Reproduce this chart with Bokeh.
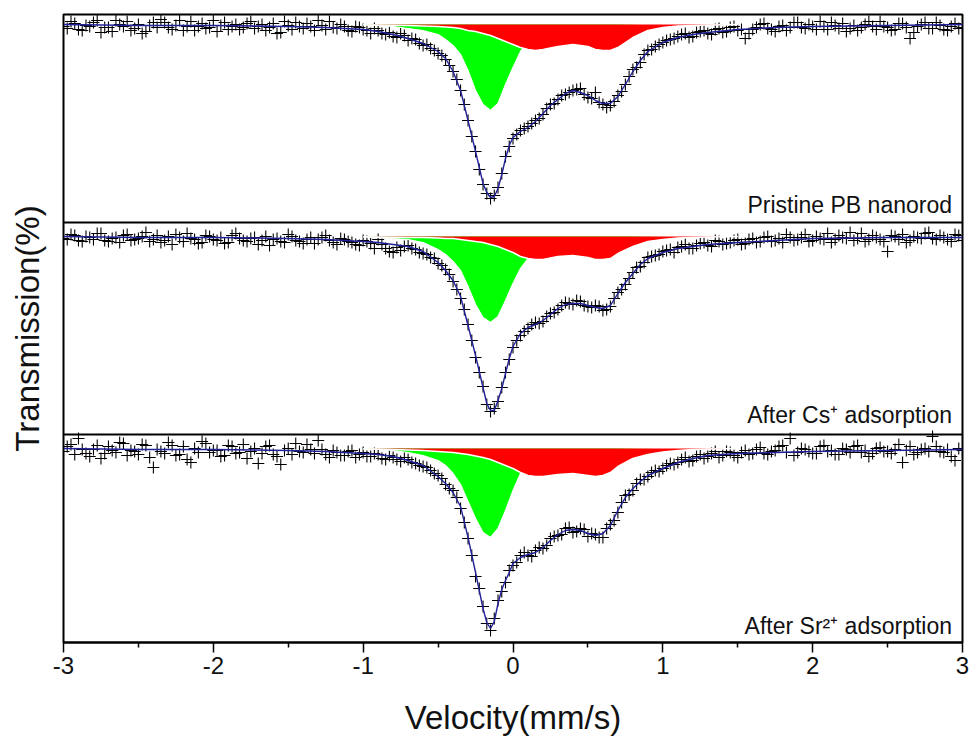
from bokeh.plotting import figure
from bokeh.models import Range1d, FixedTicker, Label, Span
from bokeh.embed import file_html
from bokeh.resources import INLINE

# ---------------- data ----------------
velocity = [-3.00, -2.95, -2.90, -2.85, -2.80, -2.75, -2.70, -2.65, -2.60, -2.55,
            -2.50, -2.45, -2.40, -2.35, -2.30, -2.25, -2.20, -2.15, -2.10, -2.05,
            -2.00, -1.95, -1.90, -1.85, -1.80, -1.75, -1.70, -1.65, -1.60, -1.55,
            -1.50, -1.45, -1.40, -1.35, -1.30, -1.25, -1.20, -1.15, -1.10, -1.05,
            -1.00, -0.95, -0.90, -0.85, -0.80, -0.75, -0.70, -0.65, -0.60, -0.55,
            -0.50, -0.45, -0.40, -0.35, -0.30, -0.25, -0.20, -0.15, -0.10, -0.05,
            0.00, 0.05, 0.10, 0.15, 0.20, 0.25, 0.30, 0.35, 0.40, 0.45,
            0.50, 0.55, 0.60, 0.65, 0.70, 0.75, 0.80, 0.85, 0.90, 0.95,
            1.00, 1.05, 1.10, 1.15, 1.20, 1.25, 1.30, 1.35, 1.40, 1.45,
            1.50, 1.55, 1.60, 1.65, 1.70, 1.75, 1.80, 1.85, 1.90, 1.95,
            2.00, 2.05, 2.10, 2.15, 2.20, 2.25, 2.30, 2.35, 2.40, 2.45,
            2.50, 2.55, 2.60, 2.65, 2.70, 2.75, 2.80, 2.85, 2.90, 2.95,
            3.00]

velocity_mid = [-2.975, -2.925, -2.875, -2.825, -2.775, -2.725, -2.675, -2.625, -2.575, -2.525,
                -2.475, -2.425, -2.375, -2.325, -2.275, -2.225, -2.175, -2.125, -2.075, -2.025,
                -1.975, -1.925, -1.875, -1.825, -1.775, -1.725, -1.675, -1.625, -1.575, -1.525,
                -1.475, -1.425, -1.375, -1.325, -1.275, -1.225, -1.175, -1.125, -1.075, -1.025,
                -0.975, -0.925, -0.875, -0.825, -0.775, -0.725, -0.675, -0.625, -0.575, -0.525,
                -0.475, -0.425, -0.375, -0.325, -0.275, -0.225, -0.175, -0.125, -0.075, -0.025,
                0.025, 0.075, 0.125, 0.175, 0.225, 0.275, 0.325, 0.375, 0.425, 0.475,
                0.525, 0.575, 0.625, 0.675, 0.725, 0.775, 0.825, 0.875, 0.925, 0.975,
                1.025, 1.075, 1.125, 1.175, 1.225, 1.275, 1.325, 1.375, 1.425, 1.475,
                1.525, 1.575, 1.625, 1.675, 1.725, 1.775, 1.825, 1.875, 1.925, 1.975,
                2.025, 2.075, 2.125, 2.175, 2.225, 2.275, 2.325, 2.375, 2.425, 2.475,
                2.525, 2.575, 2.625, 2.675, 2.725, 2.775, 2.825, 2.875, 2.925, 2.975]

pristine_data = [99.98, 100.03, 99.95, 99.99, 100.02, 99.92, 99.97, 100.04, 99.98, 99.94,
                 100.00, 99.93, 100.02, 100.05, 99.97, 99.99, 99.94, 100.03, 99.98, 99.96,
                 100.04, 99.99, 99.95, 100.00, 99.97, 100.03, 99.98, 99.94, 100.01, 99.92,
                 99.99, 100.02, 99.96, 99.98, 100.04, 99.95, 99.97, 100.00, 99.94, 99.98,
                 99.95, 99.91, 99.94, 99.90, 99.88, 99.91, 99.84, 99.85, 99.79, 99.76,
                 99.71, 99.65, 99.53, 99.34, 99.04, 98.73, 98.40, 98.26, 98.37, 98.68,
                 98.86, 98.94, 98.98, 99.04, 99.10, 99.20, 99.25, 99.30, 99.34, 99.36,
                 99.27, 99.32, 99.20, 99.19, 99.29, 99.40, 99.55, 99.62, 99.74, 99.78,
                 99.82, 99.85, 99.88, 99.91, 99.88, 99.93, 99.91, 99.95, 99.92, 99.97,
                 99.94, 99.86, 99.95, 100.00, 99.96, 99.93, 99.99, 99.97, 100.02, 99.96,
                 99.98, 100.03, 99.95, 99.99, 100.01, 99.96, 99.94, 100.00, 99.98, 100.03,
                 99.97, 99.95, 100.01, 99.86, 99.98, 100.02, 99.96, 99.99, 99.94, 100.01,
                 99.97]
pristine_data_mid = [99.96, 100.01, 99.94, 99.98, 100.04, 99.97, 99.93, 100.00, 100.03, 99.96,
                     99.91, 99.99, 99.97, 100.02, 99.95, 100.04, 99.98, 99.94, 100.01, 99.97,
                     99.93, 100.02, 99.98, 99.95, 100.01, 99.96, 100.00, 99.97, 99.91, 100.03,
                     99.95, 99.98, 100.01, 99.94, 99.99, 100.03, 99.96, 99.98, 99.93, 99.97,
                     99.94, 99.96, 99.91, 99.92, 99.87, 99.89, 99.86, 99.81, 99.80, 99.74,
                     99.69, 99.59, 99.45, 99.20, 98.88, 98.55, 98.31, 98.29, 98.51, 98.78,
                     98.90, 98.96, 99.01, 99.06, 99.16, 99.21, 99.29, 99.32, 99.35, 99.30,
                     99.26, 99.22, 99.17, 99.23, 99.33, 99.48, 99.57, 99.70, 99.75, 99.80,
                     99.84, 99.86, 99.90, 99.87, 99.92, 99.94, 99.90, 99.96, 99.93, 99.98,
                     99.95, 99.91, 99.97, 100.01, 99.95, 99.98, 99.94, 100.02, 99.97, 100.00,
                     99.95, 99.98, 100.02, 99.96, 99.93, 99.99, 99.97, 100.03, 99.95, 99.98,
                     99.94, 100.01, 99.97, 99.92, 100.00, 99.96, 100.02, 99.95, 99.98, 99.96]

cs_data = [99.98, 100.02, 99.96, 100.00, 99.97, 100.03, 99.95, 99.99, 100.01, 99.96,
           99.98, 100.04, 99.97, 99.94, 100.00, 100.02, 99.95, 99.98, 99.93, 100.01,
           99.97, 99.99, 99.94, 100.03, 99.96, 99.98, 99.92, 100.00, 99.97, 99.95,
           100.02, 99.96, 99.93, 99.99, 99.97, 100.01, 99.94, 99.98, 99.95, 99.92,
           99.96, 99.93, 99.97, 99.88, 99.84, 99.86, 99.91, 99.87, 99.83, 99.79,
           99.73, 99.67, 99.55, 99.38, 99.12, 98.79, 98.50, 98.25, 98.35, 98.64,
           98.89, 99.01, 99.08, 99.14, 99.15, 99.23, 99.27, 99.34, 99.32, 99.35,
           99.30, 99.31, 99.26, 99.30, 99.44, 99.52, 99.64, 99.70, 99.79, 99.81,
           99.85, 99.87, 99.89, 99.92, 99.88, 99.93, 99.91, 99.96, 99.92, 99.94,
           99.97, 99.93, 99.98, 99.95, 100.00, 99.96, 99.94, 99.99, 99.97, 100.02,
           99.96, 99.98, 100.03, 99.97, 99.99, 100.04, 99.98, 99.95, 100.01, 99.97,
           99.85, 100.00, 100.02, 99.96, 99.99, 100.03, 99.98, 100.01, 99.97, 100.02,
           99.96]
cs_data_mid = [99.97, 100.01, 99.95, 99.99, 100.03, 99.96, 99.98, 99.94, 100.02, 99.97,
               100.00, 99.95, 100.01, 99.96, 99.92, 99.99, 100.03, 99.97, 99.94, 100.00,
               99.96, 99.93, 100.01, 99.98, 99.95, 99.99, 99.96, 99.91, 99.98, 99.94,
               100.00, 99.95, 99.97, 99.93, 99.99, 99.96, 99.92, 99.97, 99.94, 99.91,
               99.95, 99.88, 99.92, 99.85, 99.89, 99.90, 99.88, 99.84, 99.82, 99.78,
               99.71, 99.62, 99.47, 99.27, 98.96, 98.64, 98.32, 98.28, 98.49, 98.77,
               98.96, 99.05, 99.12, 99.13, 99.20, 99.24, 99.31, 99.33, 99.36, 99.31,
               99.29, 99.30, 99.27, 99.38, 99.47, 99.58, 99.69, 99.74, 99.80, 99.82,
               99.86, 99.84, 99.90, 99.88, 99.91, 99.94, 99.90, 99.95, 99.93, 99.96,
               99.92, 99.97, 99.94, 99.99, 99.95, 99.98, 100.02, 99.96, 99.99, 99.95,
               100.00, 99.97, 99.94, 100.01, 99.98, 99.96, 100.03, 99.97, 99.99, 99.95,
               100.01, 99.97, 99.94, 100.00, 99.98, 100.04, 99.97, 99.99, 99.95, 100.01]

sr_data = [99.97, 100.04, 100.10, 99.95, 99.99, 99.90, 100.02, 99.96, 100.05, 99.98,
           99.94, 100.03, 99.81, 99.97, 100.06, 99.93, 100.02, 99.86, 99.96, 100.05,
           99.98, 99.92, 100.03, 99.95, 100.04, 99.97, 99.85, 100.02, 99.94, 99.84,
           100.00, 100.05, 99.96, 99.99, 100.08, 99.94, 99.98, 99.93, 99.97, 99.91,
           99.96, 99.92, 99.94, 99.89, 99.91, 99.87, 99.89, 99.85, 99.82, 99.78,
           99.73, 99.64, 99.58, 99.40, 99.10, 98.72, 98.42, 98.18, 98.48, 98.66,
           98.83, 98.93, 98.93, 98.98, 99.00, 99.10, 99.13, 99.20, 99.16, 99.20,
           99.12, 99.14, 99.11, 99.24, 99.36, 99.53, 99.58, 99.69, 99.72, 99.78,
           99.80, 99.85, 99.86, 99.91, 99.88, 99.94, 99.92, 99.97, 99.93, 99.96,
           99.91, 99.98, 99.95, 100.01, 99.94, 99.98, 100.03, 100.10, 99.96, 99.99,
           99.95, 100.02, 99.97, 99.94, 100.00, 99.96, 100.03, 99.98, 99.95, 100.01,
           99.97, 99.99, 99.86, 100.02, 99.96, 100.00, 100.12, 99.97, 99.99, 99.88,
           99.98]
sr_data_mid = [100.02, 99.94, 99.99, 99.92, 100.03, 99.95, 99.98, 100.06, 99.93, 99.97,
               100.04, 99.91, 99.99, 99.95, 100.03, 99.94, 99.89, 100.00, 100.07, 99.96,
               99.98, 99.93, 100.02, 99.96, 99.90, 100.00, 99.95, 100.03, 99.92, 99.98,
               99.94, 99.97, 100.04, 99.95, 99.99, 99.91, 99.96, 99.93, 99.98, 99.94,
               99.92, 99.95, 99.90, 99.93, 99.89, 99.91, 99.86, 99.83, 99.81, 99.75,
               99.70, 99.60, 99.51, 99.26, 98.93, 98.60, 98.25, 98.30, 98.57, 98.78,
               98.86, 98.96, 98.92, 99.01, 99.03, 99.12, 99.14, 99.21, 99.17, 99.19,
               99.15, 99.11, 99.20, 99.28, 99.46, 99.54, 99.65, 99.69, 99.76, 99.77,
               99.83, 99.84, 99.89, 99.87, 99.92, 99.90, 99.95, 99.91, 99.97, 99.93,
               99.96, 99.94, 99.99, 99.95, 99.97, 100.02, 99.96, 99.93, 100.00, 99.97,
               99.95, 100.03, 99.98, 99.94, 99.99, 100.02, 99.96, 99.92, 100.00, 99.97,
               99.95, 100.04, 99.98, 99.94, 99.99, 99.97, 100.02, 99.96, 99.92, 100.00]

fit_velocity = [-3.0, -2.5, -2.0, -1.5, -1.25, -1.0, -0.9, -0.8, -0.7, -0.6,
                -0.5, -0.45, -0.4, -0.35, -0.3, -0.25, -0.2, -0.175, -0.15, -0.125,
                -0.1, -0.075, -0.05, -0.025, 0.0, 0.05, 0.1, 0.15, 0.2, 0.25,
                0.3, 0.35, 0.4, 0.45, 0.5, 0.55, 0.6, 0.65, 0.7, 0.75,
                0.8, 0.85, 0.9, 1.0, 1.1, 1.2, 1.3, 1.5, 1.75, 2.0,
                2.5, 3.0]

pristine_fit = [100.00, 99.99, 99.99, 99.98, 99.97, 99.95, 99.93, 99.90, 99.86, 99.81,
                99.73, 99.66, 99.53, 99.34, 99.04, 98.73, 98.41, 98.32, 98.27, 98.28,
                98.36, 98.50, 98.66, 98.79, 98.87, 98.93, 98.97, 99.03, 99.11, 99.19,
                99.25, 99.31, 99.34, 99.32, 99.29, 99.24, 99.21, 99.21, 99.28, 99.40,
                99.53, 99.64, 99.73, 99.82, 99.87, 99.90, 99.92, 99.95, 99.97, 99.98,
                99.99, 100.00]

cs_fit = [100.00, 99.99, 99.99, 99.98, 99.97, 99.95, 99.94, 99.92, 99.90, 99.85,
          99.74, 99.66, 99.56, 99.40, 99.11, 98.81, 98.49, 98.33, 98.26, 98.26,
          98.36, 98.48, 98.63, 98.78, 98.90, 99.03, 99.09, 99.12, 99.16, 99.22,
          99.28, 99.32, 99.33, 99.33, 99.31, 99.29, 99.28, 99.31, 99.43, 99.54,
          99.63, 99.72, 99.78, 99.84, 99.88, 99.90, 99.92, 99.94, 99.96, 99.98,
          99.99, 99.99]

sr_fit = [100.00, 99.99, 99.99, 99.98, 99.97, 99.95, 99.94, 99.92, 99.88, 99.83,
          99.72, 99.65, 99.56, 99.42, 99.11, 98.76, 98.40, 98.26, 98.20, 98.27,
          98.45, 98.59, 98.68, 98.76, 98.85, 98.91, 98.94, 98.96, 99.01, 99.08,
          99.14, 99.18, 99.19, 99.18, 99.15, 99.13, 99.15, 99.23, 99.38, 99.51,
          99.60, 99.67, 99.73, 99.80, 99.86, 99.90, 99.93, 99.95, 99.96, 99.97,
          99.98, 99.99]

comp_velocity = [-1.0, -0.9, -0.8, -0.7, -0.6, -0.5, -0.45, -0.4, -0.35, -0.3,
                 -0.25, -0.2, -0.15, -0.1, -0.05, 0.0, 0.05, 0.1, 0.15, 0.2,
                 0.3, 0.4, 0.5, 0.55, 0.6, 0.65, 0.7, 0.8, 0.9, 1.0,
                 1.1, 1.2, 1.3, 1.4, 1.5]

pristine_green = [99.995, 99.99, 99.98, 99.96, 99.94, 99.90, 99.85, 99.79, 99.70, 99.54,
                  99.34, 99.20, 99.14, 99.21, 99.40, 99.57, 99.73, 99.82, 99.87, 99.91,
                  99.95, 99.97, 99.98, 99.98, 99.99, 99.99, 99.99, 99.995, 100.0, 100.0,
                  100.0, 100.0, 100.0, 100.0, 100.0]
pristine_red = [99.997, 99.995, 99.993, 99.99, 99.985, 99.98, 99.975, 99.97, 99.96, 99.94,
                99.93, 99.91, 99.89, 99.86, 99.83, 99.80, 99.77, 99.75, 99.74, 99.75,
                99.78, 99.80, 99.78, 99.75, 99.74, 99.74, 99.77, 99.87, 99.94, 99.97,
                99.985, 99.99, 99.995, 99.997, 100.0]

cs_green = [99.995, 99.99, 99.98, 99.97, 99.94, 99.87, 99.82, 99.75, 99.66, 99.50,
            99.32, 99.19, 99.14, 99.20, 99.36, 99.53, 99.68, 99.78, 99.84, 99.88,
            99.93, 99.95, 99.97, 99.97, 99.98, 99.98, 99.985, 99.99, 99.995, 99.997,
            100.0, 100.0, 100.0, 100.0, 100.0]
cs_red = [99.997, 99.995, 99.993, 99.99, 99.99, 99.985, 99.98, 99.98, 99.97, 99.96,
          99.95, 99.94, 99.92, 99.90, 99.87, 99.84, 99.80, 99.78, 99.77, 99.77,
          99.80, 99.81, 99.79, 99.77, 99.77, 99.78, 99.83, 99.90, 99.95, 99.97,
          99.985, 99.99, 99.995, 99.997, 100.0]

sr_green = [99.995, 99.99, 99.98, 99.96, 99.93, 99.88, 99.83, 99.75, 99.64, 99.47,
            99.30, 99.16, 99.11, 99.20, 99.38, 99.58, 99.75, 99.84, 99.89, 99.92,
            99.95, 99.97, 99.98, 99.98, 99.985, 99.99, 99.99, 99.995, 99.997, 100.0,
            100.0, 100.0, 100.0, 100.0, 100.0]
sr_red = [99.997, 99.995, 99.99, 99.985, 99.98, 99.97, 99.965, 99.96, 99.95, 99.94,
          99.925, 99.91, 99.89, 99.86, 99.83, 99.80, 99.76, 99.73, 99.72, 99.72,
          99.74, 99.75, 99.73, 99.72, 99.73, 99.76, 99.82, 99.90, 99.94, 99.965,
          99.98, 99.99, 99.995, 99.997, 100.0]

baseline = 100.0
sample_labels = ["Pristine PB nanorod", "After Cs\u207a adsorption", "After Sr\u00b2\u207a adsorption"]
x_ticks = [-3, -2, -1, 0, 1, 2, 3]
x_minor = [-2.5, -1.5, -0.5, 0.5, 1.5, 2.5]

# ---------------- layout / style ----------------
FONT = "Liberation Sans"
FIT_COLOR = "#22229a"
W, H = 971, 738
FRAME_TOP, FRAME_BOTTOM = 14, 642
# pixel band of each panel and the value window shown in it (top value, bottom value)
bands = [(14, 222), (222, 434), (434, 642)]
windows = [(100.10, 98.02), (100.14, 98.02), (100.14, 98.06)]
label_levels = [98.20, 98.22, 98.23]


def full_range(band, window):
    top_px, bot_px = band
    hi, lo = window
    u = (hi - lo) / (bot_px - top_px)
    return Range1d(lo - (FRAME_BOTTOM - bot_px) * u, hi + (top_px - FRAME_TOP) * u), u


ranges = [full_range(b, w) for b, w in zip(bands, windows)]

p = figure(width=W, height=H, x_range=Range1d(-3, 3), y_range=ranges[0][0],
           output_backend="svg", toolbar_location=None,
           min_border_left=63, min_border_right=9,
           min_border_top=FRAME_TOP, min_border_bottom=H - FRAME_BOTTOM)
p.extra_y_ranges = {"cs": ranges[1][0], "sr": ranges[2][0]}
p.grid.visible = False
p.outline_line_color = "black"
p.outline_line_width = 2
p.outline_line_alpha = 1.0
p.background_fill_color = "white"
p.border_fill_color = "white"

panels = [
    ("default", pristine_data, pristine_data_mid, pristine_fit, pristine_green, pristine_red, sample_labels[0], label_levels[0]),
    ("cs", cs_data, cs_data_mid, cs_fit, cs_green, cs_red, sample_labels[1], label_levels[1]),
    ("sr", sr_data, sr_data_mid, sr_fit, sr_green, sr_red, sample_labels[2], label_levels[2]),
]

for rname, data, data_mid, fit, green, red, label, label_y in panels:
    p.scatter(velocity, data, marker="cross", size=12, line_color="black", line_width=1.1, y_range_name=rname)
    p.scatter(velocity_mid, data_mid, marker="cross", size=12, line_color="black", line_width=1.1, y_range_name=rname)
    p.varea(x=comp_velocity, y1=baseline, y2=green, fill_color="#00ff00", y_range_name=rname)
    p.line(comp_velocity, green, line_color="white", line_width=1.2, y_range_name=rname)
    p.varea(x=comp_velocity, y1=baseline, y2=red, fill_color="#ff0000", y_range_name=rname)
    p.line(comp_velocity, red, line_color="white", line_width=1.5, y_range_name=rname)
    p.line(fit_velocity, fit, line_color=FIT_COLOR, line_width=1.4, y_range_name=rname)
    p.add_layout(Label(x=2.93, y=label_y, text=label, text_align="right",
                       text_baseline="alphabetic", text_font=FONT,
                       text_font_size="23px", text_color="#111111", y_range_name=rname))

# panel separators (positions in the first panel's coordinates)
r0, u0 = ranges[0]
for band in bands[1:]:
    loc = r0.end - (band[0] - FRAME_TOP) * u0
    p.add_layout(Span(location=loc, dimension="width", line_color="black", line_width=2))

# y axis: label only
ay = p.yaxis[0]
ay.ticker = FixedTicker(ticks=[])
ay.axis_label = "Transmission(%)"
ay.axis_label_text_font = FONT
ay.axis_label_text_font_size = "33px"
ay.axis_label_text_font_style = "normal"
ay.axis_label_text_color = "#111111"
ay.axis_label_standoff = 18
ay.major_label_standoff = 0
ay.axis_line_color = None
ay.major_tick_line_color = None
ay.minor_tick_line_color = None
ay.major_label_text_font_size = "0px"

# x axis
ax = p.xaxis[0]
ax.ticker = FixedTicker(ticks=x_ticks, minor_ticks=x_minor)
ax.major_label_overrides = {t: str(t) for t in x_ticks}
ax.axis_line_color = "black"
ax.axis_line_width = 2
ax.major_tick_in = 0
ax.major_tick_out = 10
ax.minor_tick_in = 0
ax.minor_tick_out = 5
ax.major_tick_line_width = 1.5
ax.minor_tick_line_width = 1.5
ax.major_tick_line_color = "black"
ax.minor_tick_line_color = "black"
ax.major_label_text_font = FONT
ax.major_label_text_font_size = "24px"
ax.major_label_text_color = "#111111"
ax.major_label_standoff = 4
ax.axis_label = "Velocity(mm/s)"
ax.axis_label_text_font = FONT
ax.axis_label_text_font_size = "33px"
ax.axis_label_text_font_style = "normal"
ax.axis_label_text_color = "#111111"
ax.axis_label_standoff = 22

open("out.html", "w").write(file_html(p, INLINE))
